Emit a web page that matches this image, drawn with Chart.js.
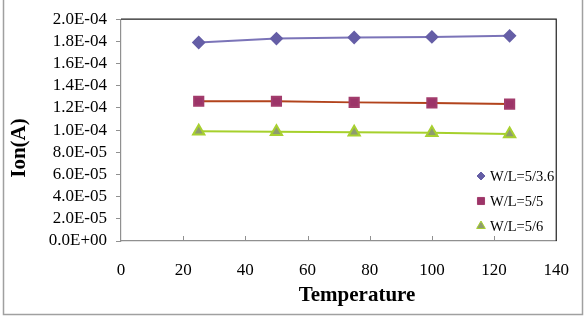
<!DOCTYPE html>
<html>
<head>
<meta charset="utf-8">
<script src="https://cdn.jsdelivr.net/npm/chart.js@4.4.1/dist/chart.umd.min.js"></script>
<style>
    html, body { margin: 0; padding: 0; background: #ffffff; }
    #box { width: 588px; height: 322px; position: relative; }
</style>
</head>
<body>
<div id="box"><canvas id="myChart"></canvas></div>
<script>
const temps = [25, 50, 75, 100, 125];
const ion36 = [1.79e-4, 1.825e-4, 1.835e-4, 1.84e-4, 1.85e-4];
const ion5 = [1.26e-4, 1.26e-4, 1.25e-4, 1.245e-4, 1.235e-4];
const ion6 = [0.99e-4, 0.985e-4, 0.98e-4, 0.975e-4, 0.965e-4];
const names = ['W/L=5/3.6', 'W/L=5/5', 'W/L=5/6'];
const xTicks = [0, 20, 40, 60, 80, 100, 120, 140];
const yTicks = [0, 2e-5, 4e-5, 6e-5, 8e-5, 1e-4, 1.2e-4, 1.4e-4, 1.6e-4, 1.8e-4, 2e-4];

function toPoints(ys) {
    return temps.map((t, i) => ({ x: t, y: ys[i] }));
}

function sciLabel(v) {
    if (Math.abs(v) < 1e-12) return '0.0E+00';
    const s = Number(v).toExponential(1).split('e');
    const e = parseInt(s[1], 10);
    const sign = e < 0 ? '-' : '+';
    const ee = String(Math.abs(e)).padStart(2, '0');
    return s[0] + 'E' + sign + ee;
}

// frame, inner x ticks, outer border, axis titles and legend
const decor = {
    id: 'decor',
    afterDraw(chart) {
        const c = chart.ctx;
        const a = chart.chartArea;
        const xs = chart.scales.x;
        c.save();
        // outer border
        c.strokeStyle = '#a0a0a0';
        c.lineWidth = 1.5;
        c.strokeRect(3.5, -3, 579, 317.5);
        // top and right frame
        c.strokeStyle = '#202020';
        c.lineWidth = 1.2;
        c.beginPath();
        c.moveTo(a.left, a.top);
        c.lineTo(a.right, a.top);
        c.lineTo(a.right, a.bottom);
        c.stroke();
        // x ticks pointing inwards
        c.strokeStyle = '#909090';
        c.lineWidth = 1;
        xTicks.slice(1, -1).forEach((t) => {
            const px = Math.round(xs.getPixelForValue(t)) + 0.5;
            c.beginPath();
            c.moveTo(px, a.bottom);
            c.lineTo(px, a.bottom - 5);
            c.stroke();
        });
        // axis titles
        c.fillStyle = '#000000';
        c.font = 'bold 21px "Liberation Serif", "Times New Roman", serif';
        c.textAlign = 'center';
        c.textBaseline = 'middle';
        c.fillText('Temperature', 357, 296);
        c.translate(20, 148);
        c.rotate(-Math.PI / 2);
        c.fillText('Ion(A)', 0, 0);
        c.restore();

        // legend
        c.save();
        const rows = [176, 201, 226];
        c.font = '14.5px "Liberation Serif", "Times New Roman", serif';
        c.textAlign = 'left';
        c.textBaseline = 'middle';
        chart.data.datasets.forEach((ds, i) => {
            c.fillStyle = ds.pointBackgroundColor;
            c.strokeStyle = ds.pointBorderColor;
            c.lineWidth = 1;
            Chart.helpers.drawPoint(c, {
                pointStyle: ds.pointStyle,
                radius: ds.legendRadius,
                borderWidth: 1,
                rotation: 0
            }, 481, rows[i]);
            c.fillStyle = '#000000';
            c.fillText(ds.label, 490, rows[i] + 1);
        });
        c.restore();
    }
};

const ctx = document.getElementById('myChart').getContext('2d');
const chart = new Chart(ctx, {
    type: 'scatter',
    data: {
        datasets: [
            {
                label: names[0],
                data: toPoints(ion36),
                showLine: true,
                borderColor: '#7b74b8',
                borderWidth: 2,
                pointStyle: 'rectRot',
                pointRadius: 5.5,
                legendRadius: 4,
                pointBackgroundColor: '#655ea6',
                pointBorderColor: '#655ea6'
            },
            {
                label: names[1],
                data: toPoints(ion5),
                showLine: true,
                borderColor: '#b2431c',
                borderWidth: 2,
                pointStyle: 'rect',
                pointRadius: 6.5,
                legendRadius: 5,
                pointBackgroundColor: '#9c3468',
                pointBorderColor: '#a23c6c'
            },
            {
                label: names[2],
                data: toPoints(ion6),
                showLine: true,
                borderColor: '#a6d02c',
                borderWidth: 2,
                pointStyle: 'triangle',
                pointRadius: 6.5,
                legendRadius: 5,
                pointBackgroundColor: '#8e9c6e',
                pointBorderColor: '#a8d030'
            }
        ]
    },
    options: {
        responsive: true,
        maintainAspectRatio: false,
        animation: false,
        events: [],
        layout: {
            padding: { left: 0, right: 19, top: 14, bottom: 0 }
        },
        plugins: {
            legend: { display: false },
            tooltip: { enabled: false }
        },
        scales: {
            x: {
                type: 'linear',
                min: 0,
                max: 140,
                afterBuildTicks: (s) => { s.ticks = xTicks.map((v) => ({ value: v })); },
                afterFit: (s) => { s.height = 81; },
                border: { color: '#909090', width: 1.2 },
                grid: { drawOnChartArea: false, drawTicks: false },
                ticks: {
                    color: '#000000',
                    padding: 19,
                    maxRotation: 0,
                    autoSkip: false,
                    font: { family: '"Liberation Serif", "Times New Roman", serif', size: 17 }
                }
            },
            y: {
                min: 0,
                max: 2e-4,
                afterBuildTicks: (s) => { s.ticks = yTicks.map((v) => ({ value: v })); },
                afterFit: (s) => { s.width = 121; },
                border: { color: '#909090', width: 1.2 },
                grid: { drawOnChartArea: false, tickLength: 5, color: '#909090' },
                ticks: {
                    color: '#000000',
                    padding: 9,
                    autoSkip: false,
                    callback: (v) => sciLabel(v),
                    font: { family: '"Liberation Serif", "Times New Roman", serif', size: 17 }
                }
            }
        }
    },
    plugins: [decor]
});
</script>
</body>
</html>
